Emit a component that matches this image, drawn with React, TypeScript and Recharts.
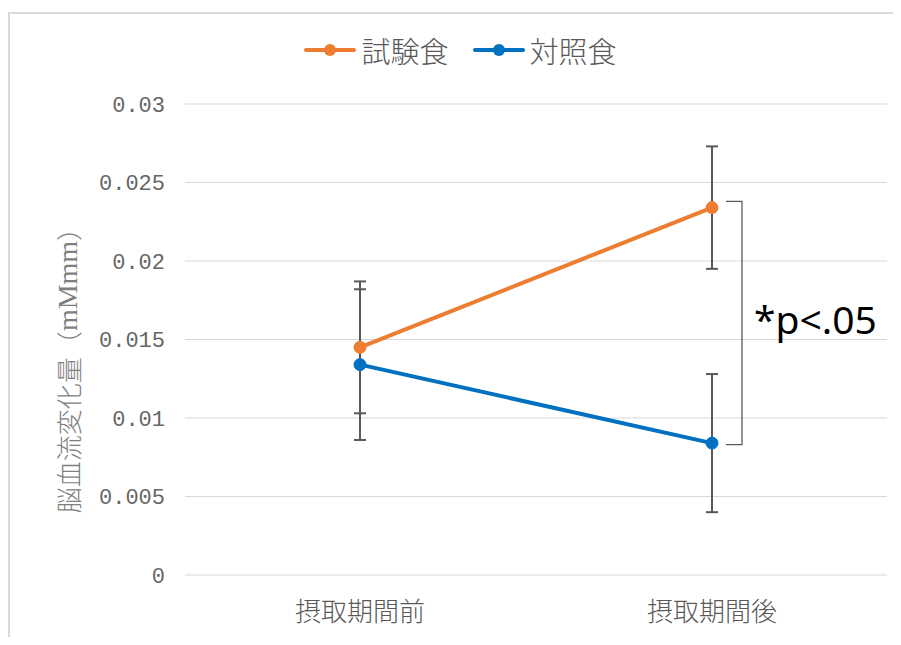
import { LineChart, Line, XAxis, YAxis, CartesianGrid, ErrorBar, ReferenceLine } from 'recharts'

const categories = ['摂取期間前', '摂取期間後']
const testMeal = [0.0145, 0.0234]
const testMealErr = [0.0042, 0.0039]
const controlMeal = [0.0134, 0.0084]
const controlMealErr = [0.0048, 0.0044]
const yTicks = [0, 0.005, 0.01, 0.015, 0.02, 0.025, 0.03]
const seriesNames = ['試験食', '対照食']
const seriesColors = ['#ED7D31', '#0070C0']
const bracketRange = [0.0238, 0.0083]
const sigLabel = '*p<.05'
const yLabelMain = '脳血流変化量'
const yLabelUnit = 'mMmm'

const data = categories.map((name, i) => ({
  name,
  test: testMeal[i],
  testErr: testMealErr[i],
  control: controlMeal[i],
  controlErr: controlMealErr[i],
}))

const gray = '#595959'
const cjk = "'Noto Sans CJK JP', sans-serif"

function Bracket(props: any) {
  const { x1, y1, y2 } = props
  if (x1 == null || y1 == null || y2 == null) return null
  const left = x1 + 14
  const right = x1 + 30
  const top = Math.min(y1, y2)
  const bottom = Math.max(y1, y2)
  return (
    <g>
      <path
        d={`M${left},${top} L${right},${top} L${right},${bottom} L${left},${bottom}`}
        fill="none"
        stroke={gray}
        strokeWidth={1.3}
      />
      <text
        x={x1 + 42}
        y={(top + bottom) / 2 - 5}
        dominantBaseline="central"
        fontSize={39}
        fontFamily="'Noto Sans', sans-serif"
        fill="#000"
      >
        {sigLabel}
      </text>
    </g>
  )
}

function LegendRow() {
  return (
    <div
      style={{
        position: 'absolute',
        top: 42,
        left: 0,
        width: 885,
        paddingLeft: 20,
        boxSizing: 'border-box',
        display: 'flex',
        justifyContent: 'center',
        gap: 24,
        transform: 'translateY(-50%)',
        fontFamily: cjk,
        fontWeight: 300,
        fontSize: 29,
        color: gray,
      }}
    >
      {seriesNames.map((n, i) => (
        <div key={n} style={{ display: 'flex', alignItems: 'center' }}>
          <svg width={52} height={16} style={{ marginRight: 5 }}>
            <line x1={2} y1={8} x2={50} y2={8} stroke={seriesColors[i]} strokeWidth={4} strokeLinecap="round" />
            <circle cx={26} cy={8} r={6} fill={seriesColors[i]} />
          </svg>
          <span>{n}</span>
        </div>
      ))}
    </div>
  )
}

export default function App() {
  return (
    <div style={{ position: 'relative', width: 885, height: 629 }}>
      <div
        style={{
          position: 'absolute',
          left: 0,
          top: 4,
          right: 0,
          bottom: 0,
          borderTop: '2px solid #d9d9d9',
          borderLeft: '2px solid #d9d9d9',
        }}
      />
      <LegendRow />
      <LineChart
        width={885}
        height={629}
        data={data}
        margin={{ top: 96, right: 6, bottom: 0, left: 0 }}
        style={{ position: 'absolute', left: 0, top: 0 }}
      >
        <CartesianGrid vertical={false} stroke="#d9d9d9" strokeWidth={1} />
        <XAxis
          dataKey="name"
          axisLine={false}
          tickLine={false}
          height={62}
          tickMargin={22}
          padding={{ left: 175, right: 175 }}
          tick={{ fontSize: 26, fill: gray, fontFamily: cjk, fontWeight: 300 }}
        />
        <YAxis
          width={177}
          domain={[0, 0.03]}
          ticks={yTicks}
          axisLine={false}
          tickLine={false}
          tickMargin={14}
          tick={{ fontSize: 22, fill: '#666666', fontFamily: "'Liberation Mono', monospace" }}
          label={{
            content: () => {
              const cx = 59
              const cy = 356
              return (
                <text
                  x={cx}
                  y={cy}
                  transform={`rotate(-90, ${cx}, ${cy})`}
                  textAnchor="middle"
                  dominantBaseline="central"
                  fontSize={26}
                  fontWeight={300}
                  fontFamily={cjk}
                  fill="#7f7f7f"
                >
                  {yLabelMain}（
                  <tspan fontFamily="'Liberation Serif', serif" fontSize={28}>{yLabelUnit}</tspan>
                  ）
                </text>
              )
            },
          }}
        />
        <ReferenceLine
          segment={[
            { x: categories[1], y: bracketRange[0] },
            { x: categories[1], y: bracketRange[1] },
          ]}
          shape={(p: any) => <Bracket {...p} />}
          ifOverflow="visible"
        />
        <Line
          dataKey="test"
          name={seriesNames[0]}
          stroke={seriesColors[0]}
          strokeWidth={4}
          dot={{ r: 6, fill: seriesColors[0], stroke: seriesColors[0], strokeWidth: 1 }}
          isAnimationActive={false}
        >
          <ErrorBar dataKey="testErr" width={6} strokeWidth={2} stroke={gray} direction="y" isAnimationActive={false} />
        </Line>
        <Line
          dataKey="control"
          name={seriesNames[1]}
          stroke={seriesColors[1]}
          strokeWidth={4}
          dot={{ r: 6, fill: seriesColors[1], stroke: seriesColors[1], strokeWidth: 1 }}
          isAnimationActive={false}
        >
          <ErrorBar dataKey="controlErr" width={6} strokeWidth={2} stroke={gray} direction="y" isAnimationActive={false} />
        </Line>
      </LineChart>
    </div>
  )
}
